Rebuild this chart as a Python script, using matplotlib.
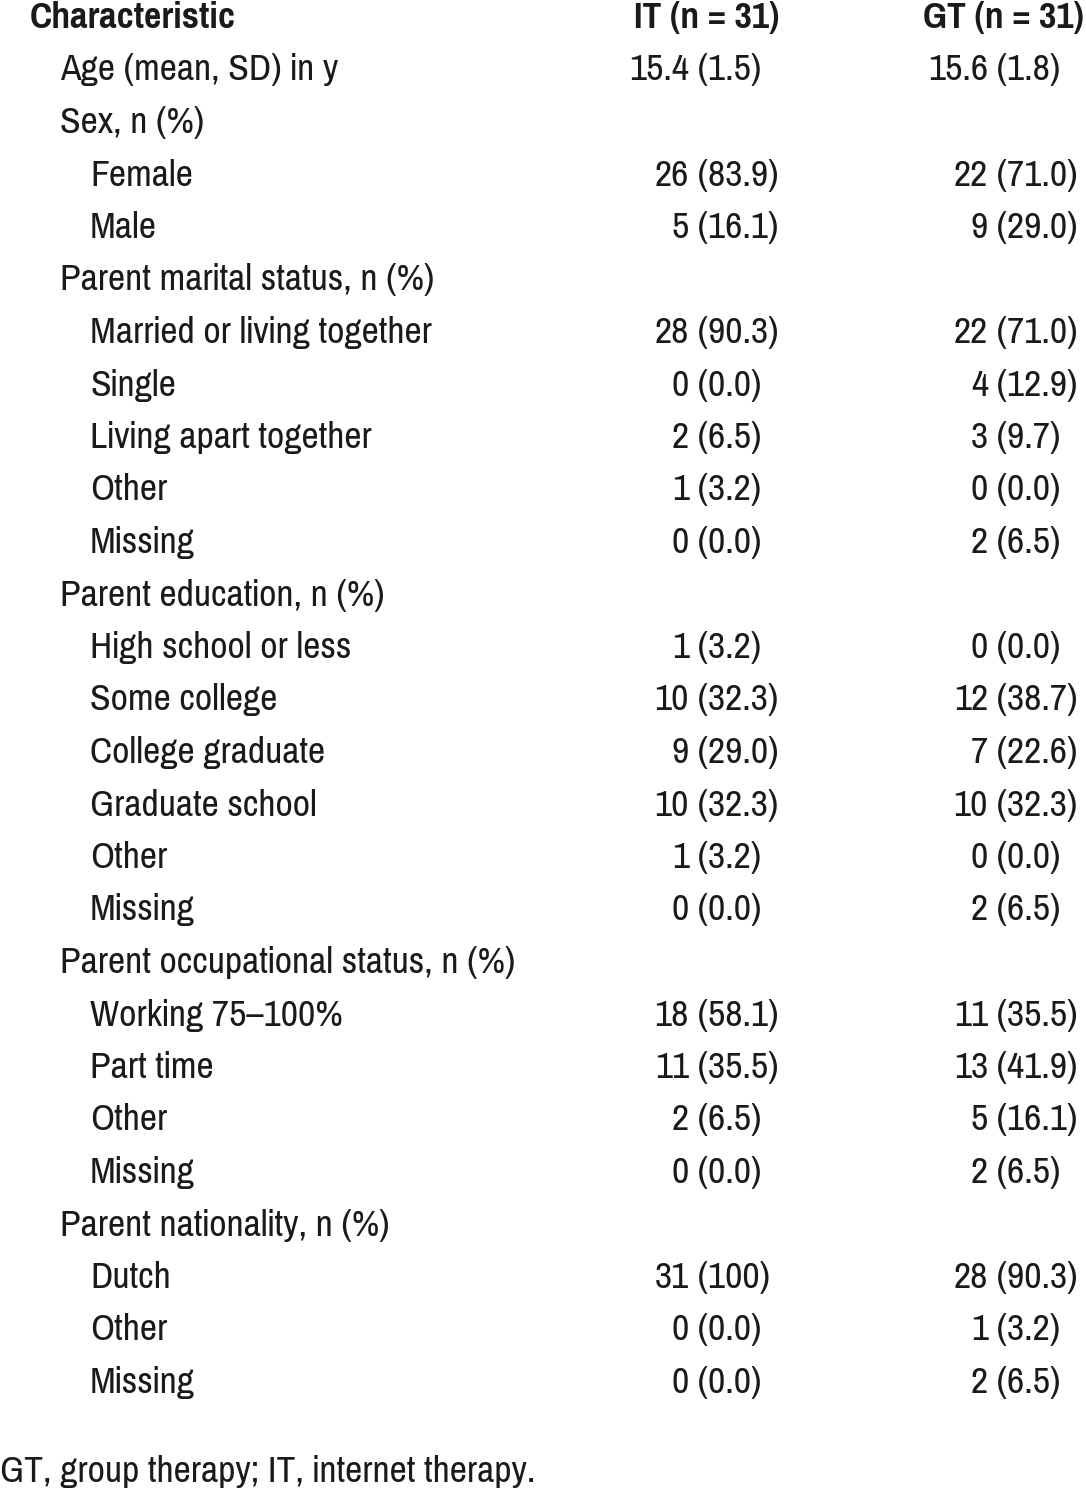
import matplotlib
matplotlib.use("Agg")
import matplotlib.pyplot as plt

FAM = ['Pragati Narrow', 'Liberation Sans', 'DejaVu Sans']

# ---- data ----
header = ["Characteristic", "IT (n = 31)", "GT (n = 31)"]
labels = ["Age (mean, SD) in y", "Sex, n (%)", "Female", "Male",
          "Parent marital status, n (%)", "Married or living together", "Single",
          "Living apart together", "Other", "Missing",
          "Parent education, n (%)", "High school or less", "Some college",
          "College graduate", "Graduate school", "Other", "Missing",
          "Parent occupational status, n (%)", "Working 75\u2013100%", "Part time",
          "Other", "Missing",
          "Parent nationality, n (%)", "Dutch", "Other", "Missing"]
levels = [1, 1, 2, 2, 1, 2, 2, 2, 2, 2, 1, 2, 2, 2, 2, 2, 2, 1, 2, 2, 2, 2, 1, 2, 2, 2]
it_vals = ["15.4 (1.5)", "", "26 (83.9)", "5 (16.1)", "", "28 (90.3)", "0 (0.0)",
           "2 (6.5)", "1 (3.2)", "0 (0.0)", "", "1 (3.2)", "10 (32.3)", "9 (29.0)",
           "10 (32.3)", "1 (3.2)", "0 (0.0)", "", "18 (58.1)", "11 (35.5)", "2 (6.5)",
           "0 (0.0)", "", "31 (100)", "0 (0.0)", "0 (0.0)"]
gt_vals = ["15.6 (1.8)", "", "22 (71.0)", "9 (29.0)", "", "22 (71.0)", "4 (12.9)",
           "3 (9.7)", "0 (0.0)", "2 (6.5)", "", "0 (0.0)", "12 (38.7)", "7 (22.6)",
           "10 (32.3)", "0 (0.0)", "2 (6.5)", "", "11 (35.5)", "13 (41.9)", "5 (16.1)",
           "2 (6.5)", "", "28 (90.3)", "1 (3.2)", "2 (6.5)"]
footnote = "GT, group therapy; IT, internet therapy."

W, H = 1086, 1489
fig = plt.figure(figsize=(W / 100, H / 100), dpi=100)
ax = fig.add_axes([0, 0, 1, 1])
ax.set_xlim(0, W)
ax.set_ylim(H, 0)
ax.axis('off')

FS = 29.5
col = '#1a1a1a'
kw = dict(fontsize=FS, family=FAM, color=col, va='baseline')

ax.text(30, 28, header[0], ha='left', fontweight='bold', **kw)
ax.text(779, 28, header[1], ha='right', fontweight='bold', **kw)
ax.text(1084, 28, header[2], ha='right', fontweight='bold', **kw)

indent = {1: 60, 2: 90}
paren_x = [689, 988]
y0, dy = 80.5, 52.5
for i, (lab, lv) in enumerate(zip(labels, levels)):
    y = y0 + dy * i
    ax.text(indent[lv], y, lab, ha='left', **kw)
    for px, v in zip(paren_x, (it_vals[i], gt_vals[i])):
        if v:
            left, right = v.split(" ", 1)
            ax.text(px, y, left, ha='right', **kw)
            ax.text(px, y, " " + right, ha='left', **kw)

ax.text(0, 1482, footnote, ha='left', **kw)
fig.savefig("out.png", dpi=100)
